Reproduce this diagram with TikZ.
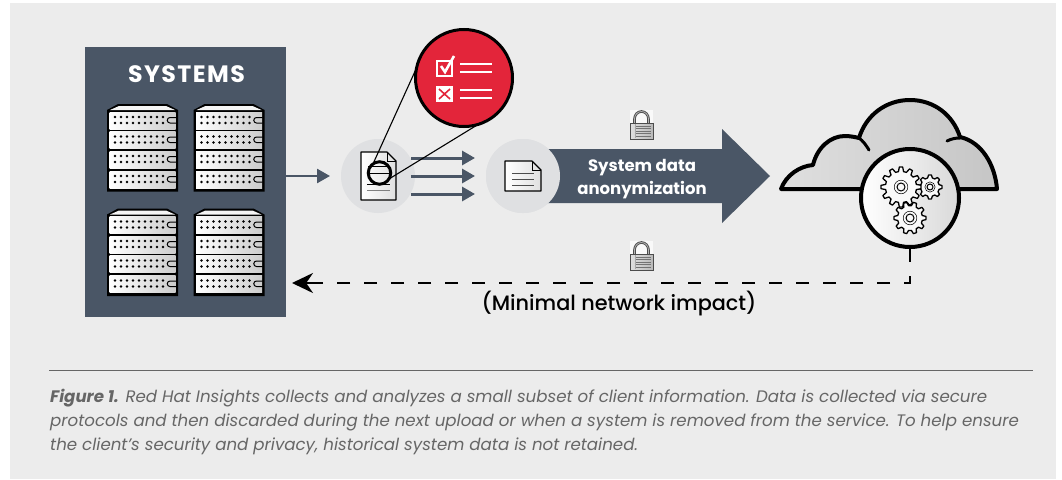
\documentclass[tikz,border=0pt]{standalone}
\usepackage{fontspec}
\setmainfont{Poppins}
\newfontfamily\sysfont[LetterSpace=6]{Poppins}
\newfontfamily\medfont{Poppins Medium}
\usetikzlibrary{arrows.meta}
\definecolor{slate}{HTML}{4A5666}
\definecolor{panelgray}{HTML}{ECECEC}
\definecolor{discgray}{HTML}{DFE0E2}
\definecolor{alertred}{HTML}{E3253A}
\definecolor{captiongray}{HTML}{666666}
\tikzset{
  flowline/.style={draw=slate,line width=3pt,-{Triangle[length=13pt,width=14pt]}},
  disc/.style={circle,fill=discgray,minimum size=74pt,inner sep=0pt,outer sep=0pt},
  sheet/.style={draw=black,line width=1.2pt,line join=round,left color=white,right color=gray!25},
  pics/rack/.style={code={
      \fill[black,line join=round] (0,6) -- (11,0) -- (60,0) -- (71,6) -- (71,87.5) -- (0,87.5) -- cycle;
      \fill[white!92!gray] (3,6) -- (12,2) -- (59,2) -- (68,6) -- cycle;
      \foreach \uy in {8,27.5,47,67} {
        \shade[left color=white,right color=gray!40] (2.5,\uy) rectangle (68.5,\uy+17);
        \foreach \ux in {0,...,8} {
          \fill[black] (8+\ux*6,\uy+5) circle (1.3);
          \fill[black] (8+\ux*6,\uy+11) circle (1.3);
        }
        \draw[black,line width=1pt] (69,\uy+5.5) -- (63,\uy+5.5) arc[start angle=90,end angle=270,x radius=2.75,y radius=-2.75] -- (69,\uy+11);
      }
  }},
  pics/lock/.style={code={
      \fill[white!95!gray] (0,0) rectangle (23,13);
      \draw[black!70,line width=2.6pt] (4.5,13) -- (4.5,9) arc[start angle=180,end angle=0,x radius=7,y radius=-7.5] -- (18.5,13);
      \draw[gray!60,line width=0.8pt] (4.5,13) -- (4.5,9) arc[start angle=180,end angle=0,x radius=7,y radius=-7.5] -- (18.5,13);
      \shade[draw=black!70,line width=0.8pt,left color=gray!25,right color=gray!55] (0,13) rectangle (23,29);
      \foreach \ly in {16,18.5,...,27} {\draw[black!55,line width=0.7pt] (6,\ly) -- (21,\ly);}
      \draw[black!35,line width=0.7pt] (5,14) -- (5,28);
  }},
  pics/gear/.style n args={3}{code={
      \draw[fill=white!96!gray,line width=1.3pt,line join=round]
        (-#3*0.32:#1*0.78) \foreach \ga in {0,#3,...,359} {
          -- (\ga-#3*0.16:#1) -- (\ga+#3*0.16:#1) -- (\ga+#3*0.32:#1*0.78) -- (\ga+#3*0.68:#1*0.78)
        } -- cycle;
      \draw[line width=1pt] (0,0) circle (#2);
      \draw[line width=0.5pt] (0,0) circle (#2*1.7);
  }},
}
\begin{document}
\begin{tikzpicture}[x=1pt,y=-1pt]
  \useasboundingbox (0,0) rectangle (1062,479);
  \fill[panelgray] (10,3) rectangle (1056,479);

  % systems
  \node[fill=slate,minimum width=201pt,minimum height=270pt,inner sep=0pt,outer sep=0pt] (systems) at (185.5,182) {};
  \node[text=white,font=\sysfont\bfseries\fontsize{23.7}{26}\selectfont] (systitle) at (186.5,74) {SYSTEMS};
  \pic at (107,104) {rack};
  \pic at (193.5,104) {rack};
  \pic at (107,208.5) {rack};
  \pic at (193.5,208.5) {rack};

  % big arrow
  \node[disc] (disca) at (378,176) {};
  \node[disc] (discb) at (523,176) {};
  \fill[slate] (discb.center |- 0,149) -- (722,149) -- (722,129) -- (770,176) -- (722,223) -- (722,203) -- (discb.center |- 0,203) -- cycle;
  \node[disc] at (discb) {};
  \node[text=white,font=\bfseries\fontsize{16.5}{23}\selectfont,align=center] (anontext) at (642,179.5) {System data\\anonymization};

  \draw[flowline,line width=2.6pt,shorten >=11pt] (systems.east |- disca.west) -- (disca.west);
  \foreach \fy in {158,176,194} {
    \coordinate (fromdoc) at (411,\fy);
    \coordinate (todisc) at (475,\fy);
    \draw[flowline] (fromdoc) -- (todisc);
  }

  % documents
  \draw[sheet] (361,152) -- (387,152) -- (396,161) -- (396,200) -- (361,200) -- cycle;
  \draw[black,line width=1pt] (387,152) -- (387,161) -- (396,161);
  \draw[black,line width=1pt] (368,166) -- (390,166) (368,173) -- (390,173) (367,184) -- (390,184);
  \draw[gray,line width=1pt] (367,190) -- (390,190);
  \draw[sheet] (505,161) -- (532,161) -- (541,170) -- (541,191) -- (505,191) -- cycle;
  \draw[black,line width=1pt] (532,161) -- (532,170) -- (541,170);
  \draw[black!70,line width=1pt] (512,173.5) -- (534,173.5) (512,179.5) -- (534,179.5) (512,185.5) -- (534,185.5);

  % checklist
  \node[circle,fill=alertred,draw=black,line width=3pt,minimum size=97pt,inner sep=0pt,outer sep=0pt] (checks) at (464,78) {};
  \node[circle,draw=black,line width=3pt,minimum size=22.5pt,inner sep=0pt,outer sep=0pt] (lens) at (379.5,173) {};
  \draw[line width=1.1pt] (checks.168) -- (lens.125);
  \draw[line width=1.1pt] (checks.-73) -- (lens.-32);
  \draw[white,line width=1.6pt] (437,61) rectangle (452,76);
  \draw[white,line width=2.6pt] (441,66) -- (445,72) -- (454,56);
  \fill[white] (436,86) rectangle (453,102);
  \draw[alertred,line width=1.6pt] (439,89) -- (450,99) (450,89) -- (439,99);
  \foreach \ly in {64,72,90,98} {\draw[white,line width=1.5pt] (460,\ly) -- (492,\ly);}

  % cloud
  \draw[black,line width=4pt,line join=round,left color=gray!25,middle color=white!95!gray,right color=gray!45]
    (781,189) .. controls (786,175) and (800,166) .. (813,165)
    .. controls (817,148) and (830,136) .. (845,136)
    .. controls (850,136) and (855,137) .. (859,138)
    .. controls (866,115) and (886,100) .. (910,100)
    .. controls (934,100) and (953,115) .. (960,137)
    .. controls (982,142) and (995,165) .. (997,189) -- cycle;
  \draw[black,line width=3pt,line cap=round] (859,138) .. controls (863,141) and (866,145) .. (869,150);
  \draw[black,line width=3pt,line cap=round] (947,141) .. controls (951,139) and (955,138) .. (960,138);
  \node[circle,draw=black,line width=4pt,left color=white,right color=gray!30,minimum size=98pt,inner sep=0pt,outer sep=2pt] (engine) at (910,198) {};
  \pic at (930,187) {gear={12}{3}{45}};
  \pic at (901,187) {gear={20}{4}{30}};
  \pic at (910,218) {gear={16}{4}{36}};

  % locks
  \pic at (630,110) {lock};
  \pic at (630,241) {lock};

  % return path
  \coordinate (backend) at (292,283);
  \draw[black,line width=2.5pt,dash pattern=on 13pt off 14pt] (engine.south) |- (312,283);
  \draw[black,line width=2.5pt,-{Stealth[length=21pt,width=20pt]}] (312,283) -- (backend);
  \node[font=\medfont\fontsize{20.8}{26}\selectfont] (impact) at (619,304) {(Minimal network impact)};

  % caption
  \draw[captiongray,line width=1pt] (49,370) -- (1033,370);
  \node[anchor=north west,inner sep=0pt,align=left,text=captiongray,font=\itshape\fontsize{16.65}{24}\selectfont] (caption) at (50,388.5)
    {\textbf{Figure 1.} Red Hat Insights collects and analyzes a small subset of client information. Data is collected via secure\\
     protocols and then discarded during the next upload or when a system is removed from the service. To help ensure\\
     the client’s security and privacy, historical system data is not retained.};
\end{tikzpicture}
\end{document}
